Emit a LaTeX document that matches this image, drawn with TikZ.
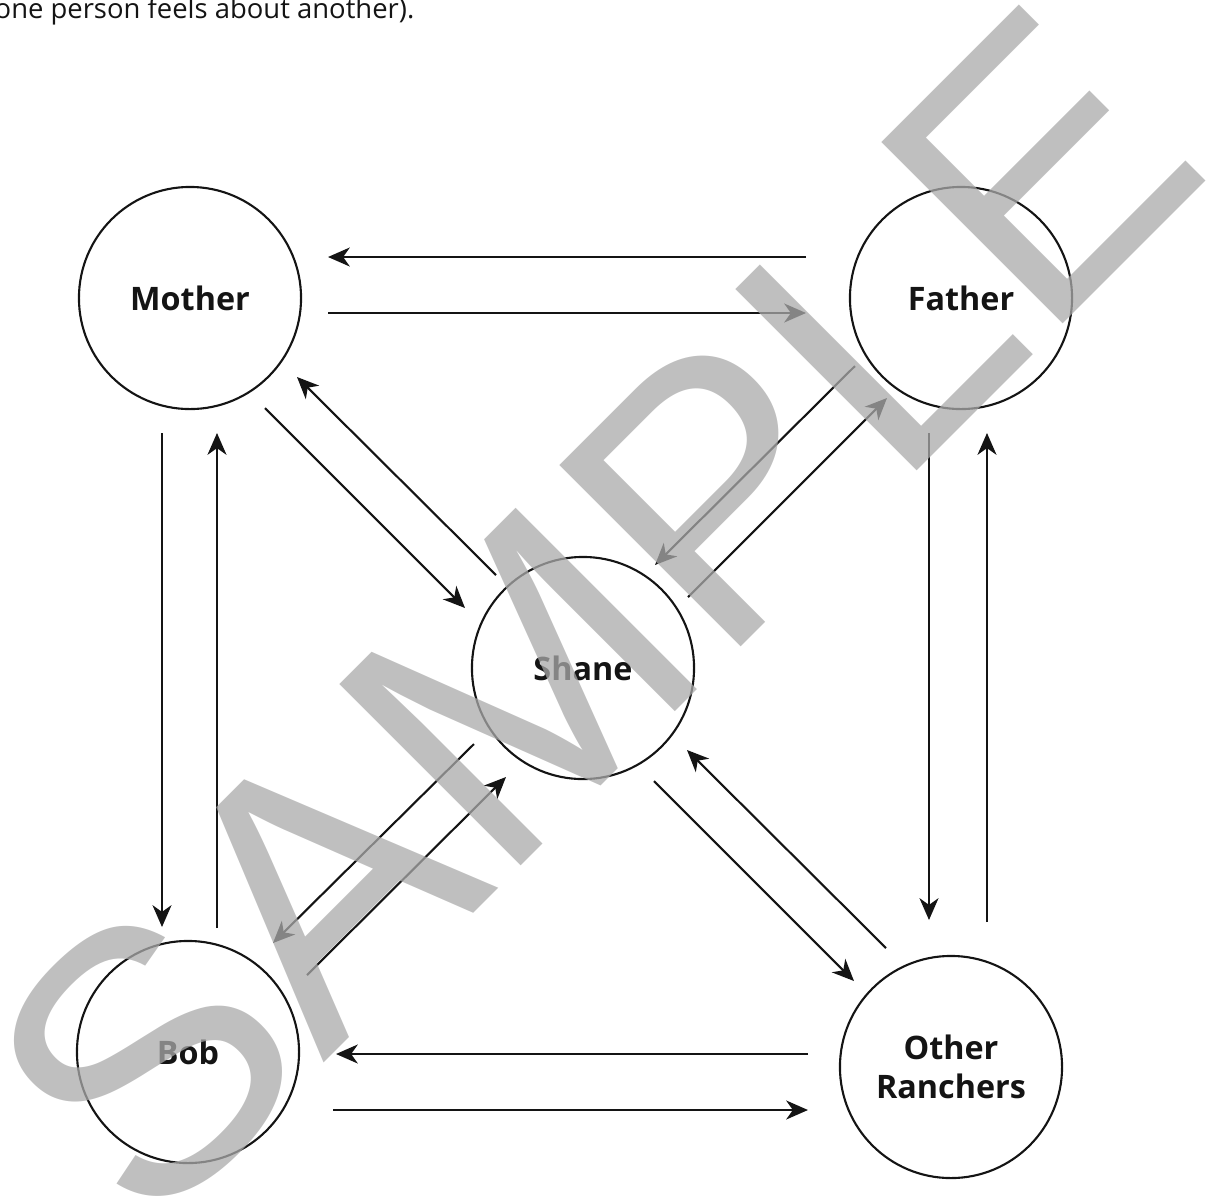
\documentclass[tikz,border=0pt]{standalone}
\usepackage{fontspec}
\setmainfont{Open Sans}
\newfontfamily\stampfont{Liberation Sans}
\usetikzlibrary{calc,arrows.meta}
\definecolor{inkdark}{RGB}{20,20,20}
\definecolor{stampgrey}{RGB}{170,170,170}

\tikzset{
  person/.style={circle,draw=inkdark,line width=0.6pt,minimum size=2.22cm,inner sep=0pt,
    align=center,font=\fontsize{9.2}{11.2}\selectfont\bfseries,text=inkdark},
  feel/.style={draw=inkdark,line width=0.6pt,-{Stealth[length=6.2pt,width=5.4pt,inset=1.9pt]}}
}

\begin{document}
\begin{tikzpicture}[x=0.01cm,y=-0.01cm]

  % ── FRAME ──────────────────────────────────────────────────────────────────
  % pixel grid of the page, y running downwards
  \useasboundingbox (0,0) rectangle (1208,1199);
  \clip (0,0) rectangle (1208,1199);

  % caption line cut off at the left edge
  \node[anchor=base west,inner sep=0pt,text=inkdark,font=\fontsize{7.8}{9}\selectfont]
    (caption) at (-6,18) {one person feels about another).};

  % ── PEOPLE ─────────────────────────────────────────────────────────────────
  \node[person] (mother) at (190,298)  {Mother};
  \node[person] (father) at (961,298)  {Father};
  \node[person] (shane)  at (583,668)  {Shane};
  \node[person] (bob)    at (188,1052) {Bob};
  \node[person] (other)  at (951,1067) {Other\\Ranchers};

  % ── FEELINGS ───────────────────────────────────────────────────────────────
  % each pair: two parallel arrows, one per direction

  % Mother -- Father
  \draw[feel] ($(father)+(-155,-41)$) -- ($(mother)+(138,-41)$);
  \draw[feel] ($(mother)+(138,15)$)   -- ($(father)+(-155,15)$);

  % Bob -- Other Ranchers
  \draw[feel] ($(other)+(-143,-13)$) -- ($(bob)+(148,2)$);
  \draw[feel] ($(bob)+(145,58)$)     -- ($(other)+(-143,43)$);

  % Mother -- Bob
  \draw[feel] ($(mother)+(-28,135)$) -- ($(bob)+(-26,-125)$);
  \draw[feel] ($(bob)+(29,-124)$)    -- ($(mother)+(27,135)$);

  % Father -- Other Ranchers
  \draw[feel] ($(father)+(-32,135)$) -- ($(other)+(-22,-147)$);
  \draw[feel] ($(other)+(36,-145)$)  -- ($(father)+(26,135)$);

  % Shane -- the four others
  \draw[feel] ($(mother)+(75,110)$)  -- ($(shane)+(-118,-60)$);
  \draw[feel] ($(shane)+(-87,-93)$)  -- ($(mother)+(107,79)$);
  \draw[feel] ($(father)+(-106,68)$) -- ($(shane)+(72,-103)$);
  \draw[feel] ($(shane)+(105,-71)$)  -- ($(father)+(-74,100)$);
  \draw[feel] ($(shane)+(-109,76)$)  -- ($(bob)+(85,-109)$);
  \draw[feel] ($(bob)+(119,-77)$)    -- ($(shane)+(-77,109)$);
  \draw[feel] ($(shane)+(71,113)$)   -- ($(other)+(-97,-86)$);
  \draw[feel] ($(other)+(-65,-119)$) -- ($(shane)+(104,82)$);

  % ── STAMP ──────────────────────────────────────────────────────────────────
  \node[rotate=45,inner sep=0pt,text=stampgrey,opacity=0.75,
    font=\fontsize{106}{106}\selectfont\stampfont] (stamp) at (592,614) {SAMPLE};

\end{tikzpicture}
\end{document}
